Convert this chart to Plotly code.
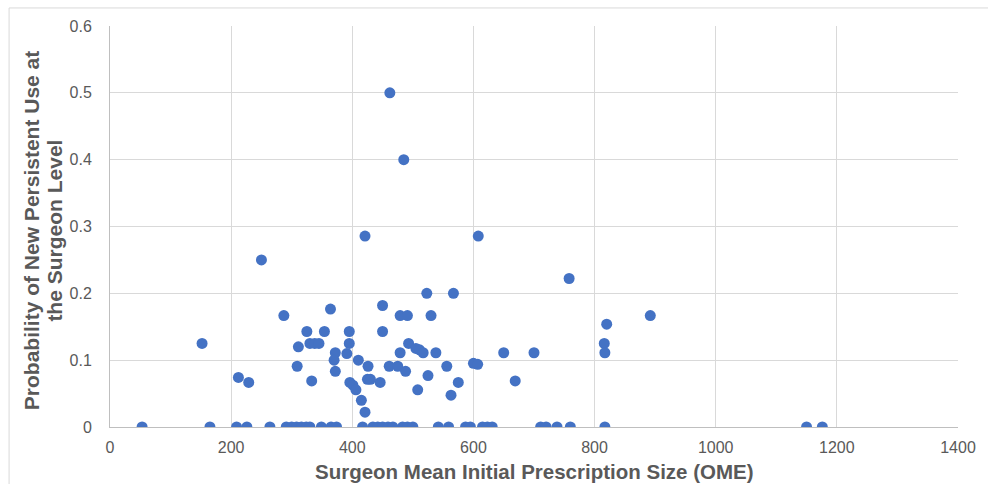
import plotly.graph_objects as go

# Surgeon mean initial prescription size (OME) and probability of new persistent use
x_nonzero = [462, 485, 421, 608, 250, 758, 523, 567, 450, 364,
             287, 479, 491, 530, 892, 820, 325, 354, 395, 450,
             152, 330, 338, 345, 395, 493, 816, 311, 505, 511,
             517, 372, 391, 479, 538, 650, 700, 817, 370, 410,
             600, 607, 309, 426, 461, 475, 556, 372, 488, 525,
             212, 425, 430, 333, 669, 229, 396, 446, 575, 401,
             406, 508, 563, 415, 421]
y_nonzero = [0.5, 0.4, 0.2857, 0.2857, 0.25, 0.2222, 0.2, 0.2, 0.1818, 0.1765,
             0.1667, 0.1667, 0.1667, 0.1667, 0.1667, 0.1538, 0.1429, 0.1429, 0.1429, 0.1429,
             0.125, 0.125, 0.125, 0.125, 0.125, 0.125, 0.125, 0.12, 0.1176, 0.1154,
             0.1111, 0.1111, 0.1099, 0.1111, 0.1111, 0.1111, 0.1111, 0.1111, 0.1, 0.1,
             0.0952, 0.0938, 0.0909, 0.0909, 0.0909, 0.0909, 0.0909, 0.0833, 0.0833, 0.0769,
             0.0741, 0.0714, 0.0714, 0.069, 0.069, 0.0667, 0.0667, 0.0667, 0.0667, 0.0625,
             0.0556, 0.0556, 0.0476, 0.04, 0.0222]

x_zero = [53, 165, 209, 226, 264, 291, 300, 308, 316, 324,
          330, 349, 365, 374, 417, 434, 442, 450, 459, 467,
          483, 491, 500, 542, 559, 587, 595, 615, 623, 631,
          711, 720, 738, 760, 817, 1150, 1176]
y_zero = [0.0] * len(x_zero)

x_vals = x_nonzero + x_zero
y_vals = y_nonzero + y_zero

x_ticks = [0, 200, 400, 600, 800, 1000, 1200, 1400]
y_ticks = [0, 0.1, 0.2, 0.3, 0.4, 0.5, 0.6]
y_tick_text = ["0", "0.1", "0.2", "0.3", "0.4", "0.5", "0.6"]

x_title = "Surgeon Mean Initial Prescription Size (OME)"
y_title_lines = ["Probability of New Persistent Use at", "the Surgeon Level"]

FONT = "Liberation Sans, Arial, sans-serif"
GRAY = "#595959"

fig = go.Figure()
fig.add_trace(go.Scatter(
    x=x_vals, y=y_vals, mode="markers",
    marker=dict(size=11, color="#4472C4", line=dict(width=0)),
    showlegend=False, hoverinfo="x+y",
))

fig.update_layout(
    width=988, height=484,
    margin=dict(l=110, r=27, t=26, b=57),
    paper_bgcolor="white", plot_bgcolor="white",
    font=dict(family=FONT, color=GRAY, size=16),
    xaxis=dict(
        range=[0, 1400], tickvals=x_ticks, ticktext=[str(v) for v in x_ticks],
        showgrid=True, gridcolor="#D9D9D9", gridwidth=1,
        showline=True, linecolor="#BFBFBF", linewidth=1,
        zeroline=False, ticks="", ticklabelstandoff=6,
        tickfont=dict(family=FONT, size=16, color=GRAY),
        fixedrange=True,
    ),
    yaxis=dict(
        range=[0, 0.6], tickvals=y_ticks, ticktext=y_tick_text,
        showgrid=True, gridcolor="#D9D9D9", gridwidth=1,
        showline=True, linecolor="#BFBFBF", linewidth=1,
        zeroline=False, ticks="", ticklabelstandoff=14,
        tickfont=dict(family=FONT, size=16, color=GRAY),
        fixedrange=True,
    ),
    annotations=[
        dict(text="<b>" + x_title + "</b>",
             xref="paper", yref="paper", x=0.5, y=-0.1415, yanchor="bottom",
             borderpad=0, showarrow=False,
             font=dict(family=FONT, size=20.5, color=GRAY)),
        dict(text="<b>" + y_title_lines[0] + "</b>",
             xref="paper", yref="paper", x=-0.0917, y=0.489, xanchor="center",
             yanchor="middle", textangle=-90, showarrow=False,
             font=dict(family=FONT, size=21, color=GRAY)),
        dict(text="<b>" + y_title_lines[1] + "</b>",
             xref="paper", yref="paper", x=-0.0652, y=0.489, xanchor="center",
             yanchor="middle", textangle=-90, showarrow=False,
             font=dict(family=FONT, size=21, color=GRAY)),
    ],
    shapes=[
        dict(type="rect", xref="paper", yref="paper",
             x0=-0.119, x1=1.3, y0=-0.3, y1=1.045,
             line=dict(color="#D9D9D9", width=1), fillcolor="rgba(0,0,0,0)",
             layer="below"),
    ],
)

fig.write_html(
    "out.html",
    config={"displayModeBar": False},
    post_script="document.body.style.margin='0';document.body.style.overflow='hidden';",
)
